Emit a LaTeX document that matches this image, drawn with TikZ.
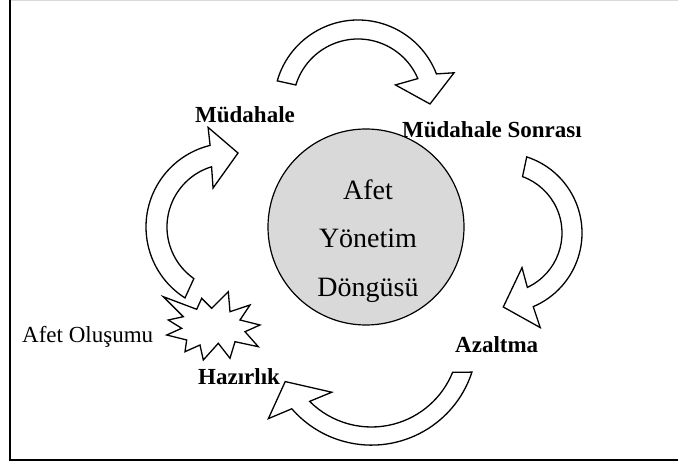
\documentclass[tikz,border=0pt]{standalone}
\usepackage{fontspec}
\setmainfont{Liberation Serif}
\begin{document}
\begin{tikzpicture}[x=1pt,y=1pt,
  blockarrow/.style={draw=black,fill=white,line width=1.3pt,line join=miter},
  phase/.style={font=\fontsize{23}{27}\selectfont\bfseries,inner sep=0pt,anchor=base west},
  centertext/.style={font=\fontsize{28}{34}\selectfont,inner sep=0pt,anchor=base}]
\useasboundingbox (0,0) rectangle (678,464);

% frame
\draw[black!15,line width=1pt] (10,463.5) -- (678,463.5);
\draw[black,line width=2pt] (10,464) -- (10,4) -- (678,4);

% central circle
\node[circle,draw=black,fill=black!15,line width=1.2pt,minimum size=196pt,inner sep=0pt] (core) at (366,237) {};
\node[centertext] (coreA) at (368,264) {Afet};
\node[centertext] (coreB) at (368,216) {Yönetim};
\node[centertext] (coreC) at (368,167) {Döngüsü};

% Müdahale -> Müdahale Sonrası
\begin{scope}[shift={(358,360)}]
\draw[blockarrow] (164:84) arc[start angle=164,end angle=21,radius=84]
  -- (18:101) -- (0:72) -- (27:42) -- (23:65)
  arc[start angle=23,end angle=163,radius=65] -- cycle;
\end{scope}

% Müdahale Sonrası -> Azaltma
\begin{scope}[shift={(502,231)}]
\draw[blockarrow] (72:80) arc[start angle=72,end angle=-67,radius=80]
  -- (-68:102) -- (-89:74) -- (-60:40) -- (-65:60)
  arc[start angle=-65,end angle=70,radius=60] -- cycle;
\end{scope}

% Azaltma -> Hazırlık
\begin{scope}[shift={(371.5,124.5)}]
\draw[blockarrow] (-18:105.6) arc[start angle=-18,end angle=-139,radius=105.6]
  -- (-142.5:130) -- (-154:96) -- (-127:66) -- (-135:87.5)
  arc[start angle=-135,end angle=-22,radius=87.5] -- cycle;
\end{scope}

% Afet Oluşumu -> Müdahale
\begin{scope}[shift={(230,237)}]
\draw[blockarrow] (237.6:84) arc[start angle=237.6,end angle=103.7,radius=84]
  -- (102.4:102) -- (83.8:74.4) -- (113.5:42.5) -- (107:63)
  arc[start angle=107,end angle=235,radius=63] -- cycle;
\end{scope}

% disaster burst
\draw[blockarrow] (163.3,167.3) -- (196.7,154.7) -- (201.7,165.7) -- (211.7,155.7)
  -- (228.3,172.3) -- (230,152.3) -- (250,159) -- (240,144) -- (260,139)
  -- (245,132.3) -- (258.3,117.3) -- (235,122.3) -- (230,105.7) -- (218.3,120.7)
  -- (203.3,104) -- (200,119) -- (185,112.3) -- (186.7,124) -- (166.7,129)
  -- (181.7,135.7) -- (168.3,144) -- (183.3,147.3) -- cycle;

% phase labels
\node[phase] (mud) at (195,341) {Müdahale};
\node[phase] (mudsonra) at (402,326) {Müdahale Sonrası};
\node[phase] (azalt) at (455,111) {Azaltma};
\node[phase] (hazir) at (198,79) {Hazırlık};
\node[font=\fontsize{23}{27}\selectfont,inner sep=0pt,anchor=base west] (olusum) at (22,121) {Afet Oluşumu};
\end{tikzpicture}
\end{document}
